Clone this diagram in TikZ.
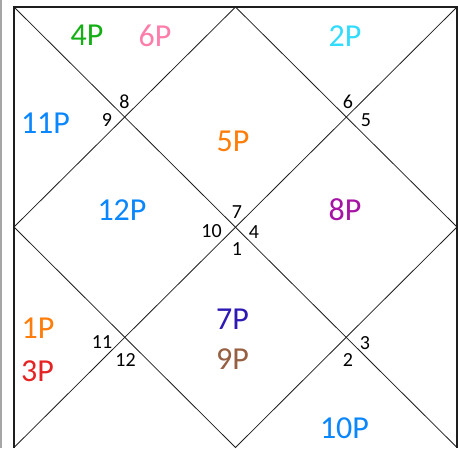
\documentclass[tikz,border=0pt]{standalone}
\usepackage{fontspec}
\setmainfont{Carlito}
\definecolor{cgreen}{RGB}{20,175,20}
\definecolor{cpink}{RGB}{255,125,170}
\definecolor{ccyan}{RGB}{50,220,255}
\definecolor{cblue}{RGB}{10,135,255}
\definecolor{corange}{RGB}{255,125,10}
\definecolor{cpurple}{RGB}{165,20,165}
\definecolor{cred}{RGB}{230,35,35}
\definecolor{cindigo}{RGB}{45,25,180}
\definecolor{cbrown}{RGB}{150,95,65}
\definecolor{cline}{RGB}{30,30,30}
\begin{document}
\begin{tikzpicture}[x=1pt,y=-1pt,
  planet/.style={inner sep=0pt,font=\fontsize{32}{32}\selectfont},
  house/.style={inner sep=0pt,font=\fontsize{20}{20}\selectfont,text=black},
  frame/.style={draw=cline,line width=1.5pt},
  divider/.style={draw=cline,line width=0.8pt}]
\useasboundingbox (0,0) rectangle (458,448);
\fill[white] (0,0) rectangle (458,448);
\draw[gray!70,line width=1.5pt] (0.75,0) -- (0.75,448);
% corners and midpoints
\coordinate (tl) at (14,7);
\coordinate (tr) at (457,7);
\coordinate (bl) at (14,447.5);
\coordinate (br) at (457,447.5);
\coordinate (mt) at (235.5,7);
\coordinate (mr) at (457,227);
\coordinate (mb) at (235.5,447.5);
\coordinate (ml) at (14,227);
% frame
\draw[frame] (bl) -- (tl) -- (tr) -- (br);
% diagonals
\draw[divider] (tl) -- (br);
\draw[divider] (tr) -- (bl);
% diamond
\draw[divider] (mt) -- (mr) -- (mb) -- (ml) -- cycle;
% planets
\node[planet,text=cgreen] (p4) at (87,35.5) {4P};
\node[planet,text=cpink] (p6) at (155,35.5) {6P};
\node[planet,text=ccyan] (p2) at (345,36) {2P};
\node[planet,text=cblue] (p11) at (45.5,123) {11P};
\node[planet,text=corange] (p5) at (233,141) {5P};
\node[planet,text=cblue] (p12) at (122,210) {12P};
\node[planet,text=cpurple] (p8) at (345,210) {8P};
\node[planet,text=corange] (p1) at (38,328.5) {1P};
\node[planet,text=cred] (p3) at (37.5,371) {3P};
\node[planet,text=cindigo] (p7) at (232.5,319.5) {7P};
\node[planet,text=cbrown] (p9) at (232.5,359.5) {9P};
\node[planet,text=cblue] (p10) at (344.5,428.5) {10P};
% house numbers
\node[house] (h8) at (124.5,101.5) {8};
\node[house] (h9) at (107,120) {9};
\node[house] (h6) at (348,101.5) {6};
\node[house] (h5) at (366,120) {5};
\node[house] (h7) at (237,212) {7};
\node[house] (h10) at (211.5,231.5) {10};
\node[house] (h4) at (254,232) {4};
\node[house] (h1) at (237,249) {1};
\node[house] (h11) at (102,342) {11};
\node[house] (h12) at (125.5,360) {12};
\node[house] (h3) at (365,343) {3};
\node[house] (h2) at (348,360) {2};
\end{tikzpicture}
\end{document}
